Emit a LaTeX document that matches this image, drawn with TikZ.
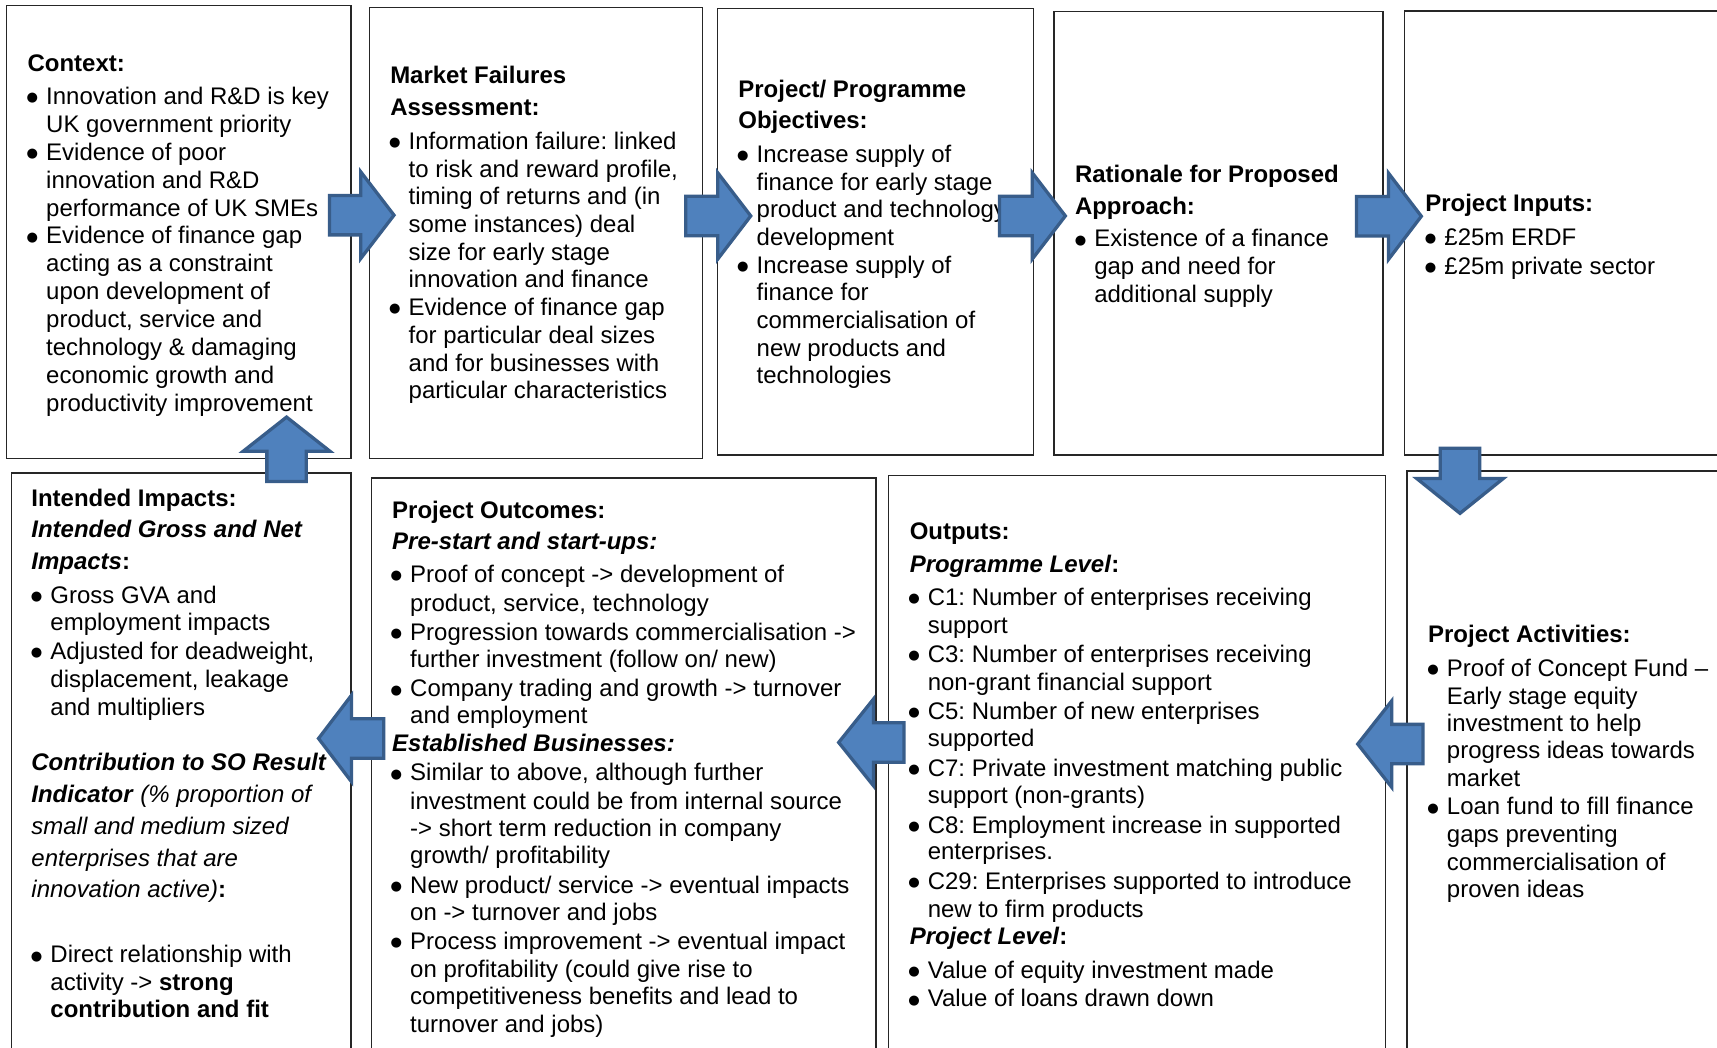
\documentclass[tikz,border=0pt]{standalone}
\usepackage{fontspec}
\setmainfont{Liberation Sans}
\newfontfamily\bulfont{DejaVu Sans}
\frenchspacing
\newcommand\bodyfont{\fontsize{21.9}{25}\selectfont\frenchspacing}
\newcommand\bul{\raisebox{2.5pt}{\fontsize{12}{12}\bulfont ●}}
\definecolor{arrfill}{HTML}{4F81BD}
\definecolor{arrline}{HTML}{385D8A}
\newcounter{lnc}
\tikzset{
  txt/.style={anchor=base west, inner sep=0pt, outer sep=0pt, font=\bodyfont, text=black},
  box/.style={draw=black!85, line width=1.3pt, anchor=north west, inner sep=0pt, outer sep=0pt},
  barrow/.style={fill=arrfill, draw=arrline, line width=3pt, line join=miter},
}
\newcommand\Ln[3]{\stepcounter{lnc}\node[txt] (ln\thelnc) at (#1,#2) {#3};}
\newcommand\Bu[3]{\stepcounter{lnc}\node[txt] (bu\thelnc) at ({#1-17.8},#2) {\bul};\Ln{#1}{#2}{#3}}
% horizontal block arrow: tail x, head-back x, tip x, centre y
\newcommand\HArr[4]{\draw[barrow] (#1,{#4-18}) -- (#2,{#4-18}) -- (#2,{#4-39.5}) -- (#3,#4) -- (#2,{#4+39.5}) -- (#2,{#4+18}) -- (#1,{#4+18}) -- cycle;}
% vertical block arrow: centre x, tail y, head-back y, tip y
\newcommand\VArr[4]{\draw[barrow] ({#1-18},#2) -- ({#1-18},#3) -- ({#1-39.5},#3) -- (#1,#4) -- ({#1+39.5},#3) -- ({#1+18},#3) -- ({#1+18},#2) -- cycle;}
\begin{document}
\begin{tikzpicture}[x=1pt,y=-1pt]
\fill[white] (0,0) rectangle (1568,957);
\clip (0,0) rectangle (1568,957);
% boxes
\node[box, minimum width=314.4pt, minimum height=413.3pt] (ctx) at (6,5.2) {};
\node[box, minimum width=304.3pt, minimum height=411.8pt] (mkt) at (337.2,6.7) {};
\node[box, minimum width=288.7pt, minimum height=408.1pt] (obj) at (655,7.6) {};
\node[box, minimum width=300.4pt, minimum height=404.8pt] (rat) at (962.6,10.7) {};
\node[box, minimum width=300pt, minimum height=405.4pt] (inp) at (1282.4,10) {};
\node[box, minimum width=309.9pt, minimum height=540pt] (imp) at (10.5,432) {};
\node[box, minimum width=461pt, minimum height=540pt] (outc) at (339,436.6) {};
\node[box, minimum width=453.7pt, minimum height=540pt] (outp) at (811.6,434.3) {};
\node[box, minimum width=300pt, minimum height=540pt] (act) at (1285,430.2) {};
% Context
\Ln{25.2}{65}{\textbf{Context:}}
\Bu{42.2}{95.5}{Innovation and R\&D is key}
\Ln{42.2}{121}{UK government priority}
\Bu{42.2}{146.5}{Evidence of poor}
\Ln{42.2}{171.9}{innovation and R\&D}
\Ln{42.2}{197.3}{performance of UK SMEs}
\Bu{42.2}{222.8}{Evidence of finance gap}
\Ln{42.2}{248.2}{acting as a constraint}
\Ln{42.2}{273.7}{upon development of}
\Ln{42.2}{299.1}{product, service and}
\Ln{42.2}{324.5}{technology \& damaging}
\Ln{42.2}{350}{economic growth and}
\Ln{42.2}{375.5}{productivity improvement}
% Market failures
\Ln{356.4}{76.5}{\textbf{Market Failures}}
\Ln{356.4}{105.5}{\textbf{Assessment:}}
\Bu{373.2}{136.5}{Information failure: linked}
\Ln{373.2}{161.8}{to risk and reward profile,}
\Ln{373.2}{187.1}{timing of returns and (in}
\Ln{373.2}{212.4}{some instances) deal}
\Ln{373.2}{237.7}{size for early stage}
\Ln{373.2}{263}{innovation and finance}
\Bu{373.2}{288.3}{Evidence of finance gap}
\Ln{373.2}{313.6}{for particular deal sizes}
\Ln{373.2}{338.9}{and for businesses with}
\Ln{373.2}{364.2}{particular characteristics}
% Objectives
\Ln{674.3}{88.8}{\textbf{Project/ Programme}}
\Ln{674.3}{117.5}{\textbf{Objectives:}}
\Bu{691}{148.5}{Increase supply of}
\Ln{691}{173.7}{finance for early stage}
\Ln{691}{199}{product and technology}
\Ln{691}{224.2}{development}
\Bu{691}{249.5}{Increase supply of}
\Ln{691}{274.7}{finance for}
\Ln{691}{300}{commercialisation of}
\Ln{691}{325.2}{new products and}
\Ln{691}{350.5}{technologies}
% Rationale
\Ln{981.7}{166.5}{\textbf{Rationale for Proposed}}
\Ln{981.7}{195.5}{\textbf{Approach:}}
\Bu{999.3}{225.5}{Existence of a finance}
\Ln{999.3}{251}{gap and need for}
\Ln{999.3}{276}{additional supply}
% Inputs
\Ln{1301.6}{192.9}{\textbf{Project Inputs:}}
\Bu{1319.1}{224.2}{£25m ERDF}
\Bu{1319.1}{250.7}{£25m private sector}
% Impacts
\Ln{28.7}{462.2}{\textbf{Intended Impacts:}}
\Ln{28.7}{491.3}{\textbf{\textit{Intended Gross and Net}}}
\Ln{28.7}{519.7}{\textbf{\textit{Impacts}:}}
\Bu{46.1}{551.2}{Gross GVA and}
\Ln{46.1}{576.2}{employment impacts}
\Bu{46.1}{601.9}{Adjusted for deadweight,}
\Ln{46.1}{627.5}{displacement, leakage}
\Ln{46.1}{653.3}{and multipliers}
\Ln{28.7}{704}{\textbf{\textit{Contribution to SO Result}}}
\Ln{28.7}{732.7}{\textbf{\textit{Indicator}} \textit{(\% proportion of}}
\Ln{28.7}{762.1}{\textit{small and medium sized}}
\Ln{28.7}{790.9}{\textit{enterprises that are}}
\Ln{28.7}{819.3}{\textit{innovation active)}\textbf{:}}
\Bu{46.1}{879.2}{Direct relationship with}
\Ln{46.1}{904.9}{activity -> \textbf{strong}}
\Ln{46.1}{928.8}{\textbf{contribution and fit}}
% Outcomes
\Ln{358.2}{473.5}{\textbf{Project Outcomes:}}
\Ln{358.2}{502}{\textbf{\textit{Pre-start and start-ups:}}}
\Bu{374.6}{532}{Proof of concept -> development of}
\Ln{374.6}{558}{product, service, technology}
\Bu{374.6}{584.5}{Progression towards commercialisation ->}
\Ln{374.6}{610}{further investment (follow on/ new)}
\Bu{374.6}{636.5}{Company trading and growth -> turnover}
\Ln{374.6}{661}{and employment}
\Ln{358.2}{686}{\textbf{\textit{Established Businesses:}}}
\Bu{374.6}{713}{Similar to above, although further}
\Ln{374.6}{738.8}{investment could be from internal source}
\Ln{374.6}{763.5}{-> short term reduction in company}
\Ln{374.6}{789}{growth/ profitability}
\Bu{374.6}{816}{New product/ service -> eventual impacts}
\Ln{374.6}{840.5}{on -> turnover and jobs}
\Bu{374.6}{867.3}{Process improvement -> eventual impact}
\Ln{374.6}{893}{on profitability (could give rise to}
\Ln{374.6}{917.5}{competitiveness benefits and lead to}
\Ln{374.6}{943}{turnover and jobs)}
% Outputs
\Ln{830.8}{493.1}{\textbf{Outputs:}}
\Ln{830.8}{522.5}{\textbf{\textit{Programme Level}:}}
\Bu{847.3}{552.5}{C1: Number of enterprises receiving}
\Ln{847.3}{578.2}{support}
\Bu{847.3}{605}{C3: Number of enterprises receiving}
\Ln{847.3}{630.3}{non-grant financial support}
\Bu{847.3}{657}{C5: Number of new enterprises}
\Ln{847.3}{681.5}{supported}
\Bu{847.3}{708.7}{C7: Private investment matching public}
\Ln{847.3}{734}{support (non-grants)}
\Bu{847.3}{760.8}{C8: Employment increase in supported}
\Ln{847.3}{785.3}{enterprises.}
\Bu{847.3}{812.5}{C29: Enterprises supported to introduce}
\Ln{847.3}{837.5}{new to firm products}
\Ln{830.8}{862.3}{\textbf{\textit{Project Level}:}}
\Bu{847.3}{893.2}{Value of equity investment made}
\Bu{847.3}{919.5}{Value of loans drawn down}
% Activities
\Ln{1304.2}{587}{\textbf{Project Activities:}}
\Bu{1321.4}{617.5}{Proof of Concept Fund –}
\Ln{1321.4}{643.2}{Early stage equity}
\Ln{1321.4}{668}{investment to help}
\Ln{1321.4}{693}{progress ideas towards}
\Ln{1321.4}{718.5}{market}
\Bu{1321.4}{744.2}{Loan fund to fill finance}
\Ln{1321.4}{769.5}{gaps preventing}
\Ln{1321.4}{794.8}{commercialisation of}
\Ln{1321.4}{819.5}{proven ideas}
% block arrows
\HArr{301}{329.5}{359.8}{196.5}
\HArr{626.2}{655.4}{685.6}{197.2}
\HArr{912.7}{942.6}{972.9}{197.2}
\HArr{1238.8}{1267.9}{1298}{197.5}
\VArr{1333.3}{409.3}{437}{468.8}
\HArr{1299.5}{1271}{1239.9}{679.5}
\HArr{825.5}{797.6}{765.9}{678}
\HArr{350.5}{321}{290.9}{674.4}
\VArr{261.7}{439.7}{412}{380.9}
\end{tikzpicture}
\end{document}
